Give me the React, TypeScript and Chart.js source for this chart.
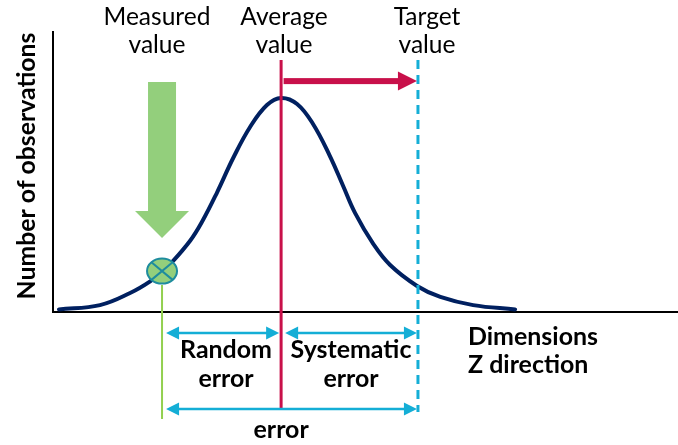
import React, { useEffect, useRef } from 'react';
import { Chart, registerables } from 'chart.js';

Chart.register(...registerables);

// ---- data ----
const curveX = [-4.87, -3.97, -3.31, -2.87, -2.61, -2.43, -1.99, -1.73, -1.40, -1.05, -0.68, -0.31, 0, 0.35, 0.70, 1.07, 1.36, 1.62, 2.02, 2.39, 2.98, 3.49, 4.21, 5.13];
const curveY = [0.012, 0.032, 0.088, 0.142, 0.187, 0.222, 0.332, 0.420, 0.557, 0.715, 0.859, 0.961, 0.994, 0.966, 0.873, 0.724, 0.585, 0.460, 0.316, 0.218, 0.121, 0.070, 0.032, 0.012];
const averageValue = 0;
const targetValue = 3.0;
const measuredValue = -2.61;
const measuredCount = 0.19;

const topLabels = [['Measured', 'value'], ['Average', 'value'], ['Target', 'value']];
const bracketLabels = [['Random', 'error'], ['Systematic', 'error']];
const totalLabel = 'error';
const xAxisLabel = ['Dimensions', 'Z direction'];
const yAxisLabel = 'Number of observations';

// ---- styles ----
const NAVY = '#002060';
const RED = '#C8104A';
const CYAN = '#14AED6';
const GREEN = '#93CF7C';
const LIGHTGREEN = '#92D050';
const TEAL = '#1E8C9E';
const FONT = 'Lato, "Open Sans", sans-serif';

// annotation levels in y-data units
const LV = {
  lineTop: 1.17,
  redBottom: -0.446,
  cyanBottom: -0.464,
  greenTop: 0.125,
  greenBottom: -0.497,
  redArrow: 1.072,
  bracket: -0.0975,
  total: -0.45,
  gArrowTop: 1.068,
  gArrowNeck: 0.469,
  gArrowTip: 0.344,
};

function fitSize(ctx: CanvasRenderingContext2D, text: string, target: number, weight: string) {
  ctx.font = `${weight} 100px ${FONT}`;
  const w = ctx.measureText(text).width;
  return (100 * target) / w;
}

function arrowHead(ctx: CanvasRenderingContext2D, tipX: number, y: number, dir: number, len: number, half: number) {
  ctx.beginPath();
  ctx.moveTo(tipX, y);
  ctx.lineTo(tipX - dir * len, y - half);
  ctx.lineTo(tipX - dir * len, y + half);
  ctx.closePath();
  ctx.fill();
}

function dblArrow(ctx: CanvasRenderingContext2D, x1: number, x2: number, y: number) {
  const len = 13, half = 6.5;
  ctx.strokeStyle = CYAN;
  ctx.fillStyle = CYAN;
  ctx.lineWidth = 2.5;
  ctx.beginPath();
  ctx.moveTo(x1 + len - 1, y);
  ctx.lineTo(x2 - len + 1, y);
  ctx.stroke();
  arrowHead(ctx, x1, y, -1, len, half);
  arrowHead(ctx, x2, y, 1, len, half);
}

const overlay = {
  id: 'overlay',
  afterDatasetsDraw(chart: any) {
    const ctx: CanvasRenderingContext2D = chart.ctx;
    const xs = chart.scales.x;
    const ys = chart.scales.y;
    const X = (v: number) => xs.getPixelForValue(v);
    const Y = (v: number) => ys.getPixelForValue(v);
    ctx.save();

    const mx = X(measuredValue);
    const ax = X(averageValue);
    const tx = X(targetValue);

    // green block arrow
    ctx.fillStyle = GREEN;
    ctx.beginPath();
    ctx.moveTo(mx - 14, Y(LV.gArrowTop));
    ctx.lineTo(mx + 14, Y(LV.gArrowTop));
    ctx.lineTo(mx + 14, Y(LV.gArrowNeck));
    ctx.lineTo(mx + 27, Y(LV.gArrowNeck));
    ctx.lineTo(mx, Y(LV.gArrowTip));
    ctx.lineTo(mx - 27, Y(LV.gArrowNeck));
    ctx.lineTo(mx - 14, Y(LV.gArrowNeck));
    ctx.closePath();
    ctx.fill();

    // measured point marker
    const cy = Y(measuredCount);
    ctx.beginPath();
    ctx.ellipse(mx, cy, 15, 12.5, 0, 0, Math.PI * 2);
    ctx.fillStyle = GREEN;
    ctx.fill();
    ctx.lineWidth = 2;
    ctx.strokeStyle = TEAL;
    ctx.stroke();
    ctx.beginPath();
    ctx.moveTo(mx - 10.6, cy - 8.8);
    ctx.lineTo(mx + 10.6, cy + 8.8);
    ctx.moveTo(mx + 10.6, cy - 8.8);
    ctx.lineTo(mx - 10.6, cy + 8.8);
    ctx.stroke();

    // red systematic shift arrow
    const ry = Y(LV.redArrow);
    ctx.fillStyle = RED;
    ctx.fillRect(ax + 2.5, ry - 3, tx - 19 - (ax + 2.5), 6);
    arrowHead(ctx, tx - 1, ry, 1, 19, 9.5);

    // cyan error arrows
    const by = Y(LV.bracket);
    dblArrow(ctx, mx + 4, ax - 2, by);
    dblArrow(ctx, ax + 4, tx - 1, by);
    dblArrow(ctx, mx + 4, tx - 1, Y(LV.total));

    // texts
    ctx.fillStyle = '#000';
    ctx.textAlign = 'center';
    ctx.textBaseline = 'alphabetic';
    const regSize = fitSize(ctx, 'Measured', 107, 'normal');
    ctx.font = `normal ${regSize}px ${FONT}`;
    const topX = [157, 284, 427];
    topLabels.forEach((lines, i) => {
      ctx.fillText(lines[0], topX[i], 25);
      ctx.fillText(lines[1], topX[i], 53);
    });

    const boldSize = fitSize(ctx, 'Random', 92, 'bold');
    ctx.font = `bold ${boldSize}px ${FONT}`;
    const brX = [226, 351];
    bracketLabels.forEach((lines, i) => {
      ctx.fillText(lines[0], brX[i], 358);
      ctx.fillText(lines[1], brX[i], 387);
    });
    ctx.fillText(totalLabel, ax, 438);

    ctx.textAlign = 'left';
    ctx.fillText(xAxisLabel[0], 468, 345);
    ctx.fillText(xAxisLabel[1], 468, 373);

    const ySize = fitSize(ctx, yAxisLabel, 267, 'bold');
    ctx.font = `bold ${ySize}px ${FONT}`;
    ctx.translate(35, 166);
    ctx.rotate(-Math.PI / 2);
    ctx.textAlign = 'center';
    ctx.fillText(yAxisLabel, 0, 0);

    ctx.restore();
  },
};

export default function App() {
  const ref = useRef<HTMLCanvasElement>(null);
  useEffect(() => {
    const canvas = ref.current!;
    const line = (x: number, y1: number, y2: number) => [{ x, y: y1 }, { x, y: y2 }];
    const chart = new Chart(canvas, {
      type: 'scatter',
      data: {
        datasets: [
          {
            data: line(averageValue, LV.lineTop, LV.redBottom),
            showLine: true, borderColor: RED, borderWidth: 3, pointRadius: 0, clip: false as any,
          },
          {
            data: line(targetValue, LV.lineTop, LV.cyanBottom),
            showLine: true, borderColor: CYAN, borderWidth: 3, borderDash: [9, 6], pointRadius: 0, clip: false as any,
          },
          {
            data: line(measuredValue, LV.greenTop, LV.greenBottom),
            showLine: true, borderColor: LIGHTGREEN, borderWidth: 2, pointRadius: 0, clip: false as any,
          },
          {
            data: curveX.map((x, i) => ({ x, y: curveY[i] })),
            showLine: true, borderColor: NAVY, borderWidth: 4, pointRadius: 0,
            tension: 0.4, borderCapStyle: 'round', borderJoinStyle: 'round', clip: false as any,
          },
        ],
      },
      options: {
        animation: false,
        responsive: false,
        devicePixelRatio: 1,
        layout: { padding: { left: 53, top: 32, right: 0, bottom: 133 } },
        plugins: { legend: { display: false }, tooltip: { enabled: false } },
        events: [],
        scales: {
          x: {
            type: 'linear', min: -5, max: 8.7,
            ticks: { display: false },
            grid: { display: false, drawTicks: false },
            border: { display: true, color: '#000', width: 2 },
          },
          y: {
            type: 'linear', min: 0, max: 1.3,
            ticks: { display: false },
            grid: { display: false, drawTicks: false },
            border: { display: true, color: '#000', width: 2 },
          },
        },
      },
      plugins: [overlay],
    });
    return () => chart.destroy();
  }, []);
  return (
    <div style={{ position: 'absolute', left: 0, top: 0, width: 678, height: 445 }}>
      <canvas ref={ref} width={678} height={445} style={{ display: 'block' }} />
    </div>
  );
}
